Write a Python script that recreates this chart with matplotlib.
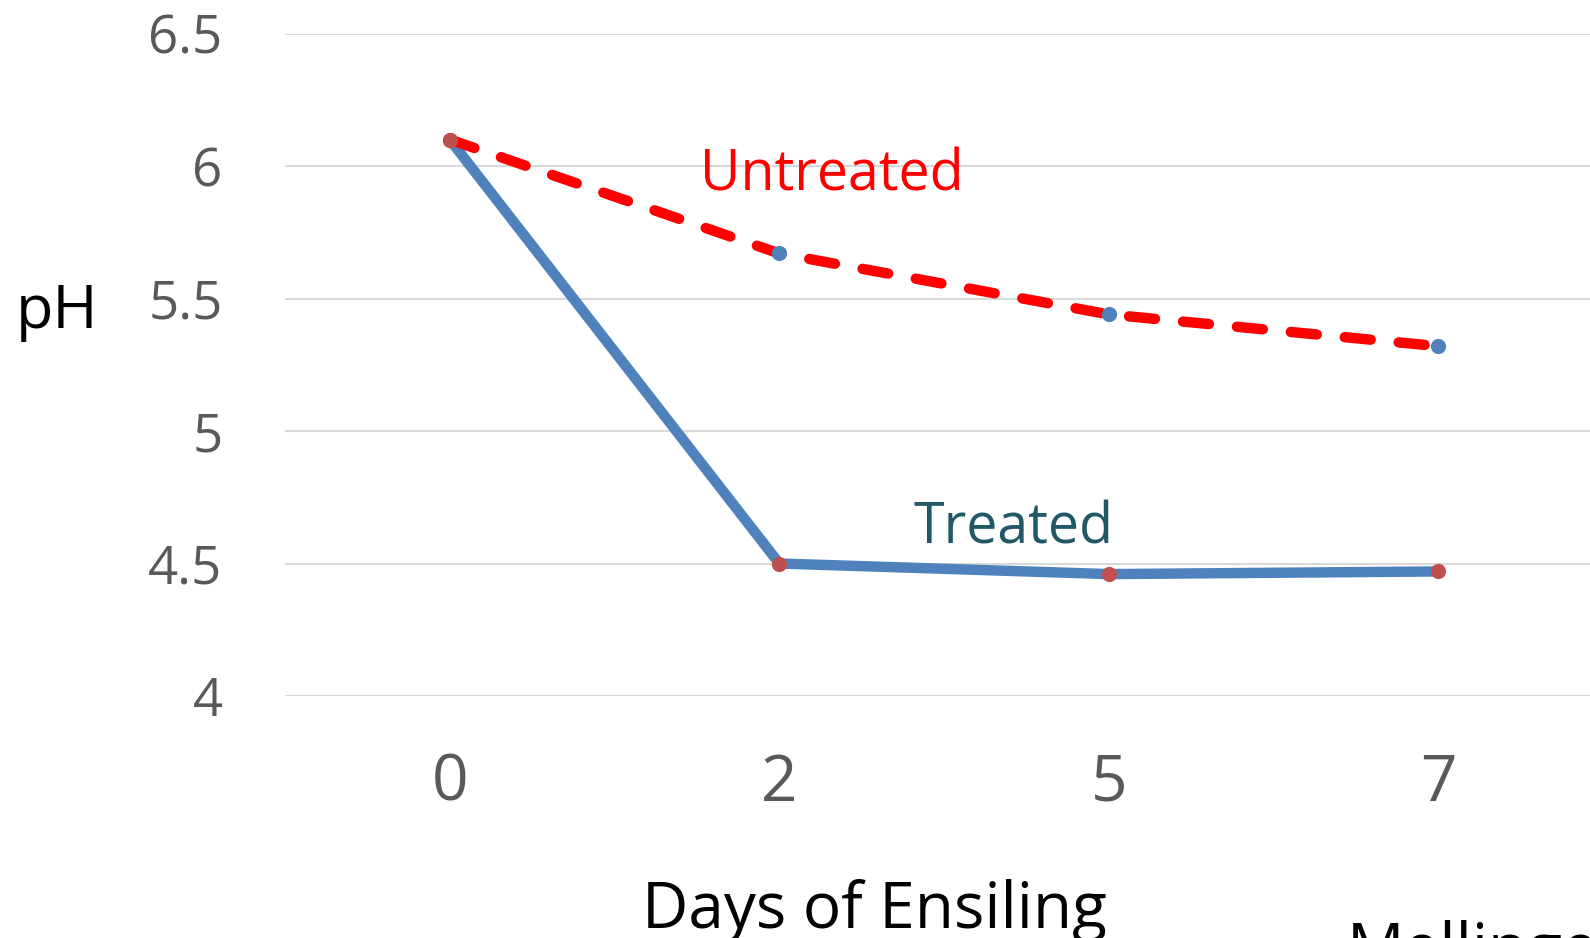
import numpy as np
import matplotlib
matplotlib.use("Agg")
import matplotlib.pyplot as plt

plt.rcParams['font.family'] = ['Open Sans', 'DejaVu Sans']

days = ['0', '2', '5', '7']
untreated = [6.10, 5.67, 5.44, 5.32]
treated = [6.10, 4.50, 4.46, 4.47]
y_ticks = [4, 4.5, 5, 5.5, 6, 6.5]
y_labels = ['4', '4.5', '5', '5.5', '6', '6.5']

W, H = 1590, 938
fig = plt.figure(figsize=(W / 100, H / 100), dpi=100)
# plot area runs past the right edge of the figure
ax = fig.add_axes([285 / W, 1 - 696 / H, 1318 / W, (696 - 33.5) / H])

x = np.arange(len(days))
blue = '#4F81BD'
brick = '#C0504D'

ax.plot(x, treated, color=blue, lw=7.5, solid_capstyle='round',
        solid_joinstyle='round', zorder=3)
ax.plot(x, untreated, color='#FF0000', lw=7.5, linestyle=(0, (2.5, 2.7)),
        dash_capstyle='round', zorder=3)
ax.scatter(x, treated, s=120, color=brick, zorder=4, linewidths=0)
ax.scatter(x[1:], untreated[1:], s=120, color=blue, zorder=4, linewidths=0)
ax.scatter(x[:1], untreated[:1], s=120, color=brick, zorder=5, linewidths=0)

ax.set_xlim(-0.5, 3.5)
ax.set_ylim(4, 6.5)
ax.set_xticks(x)
ax.set_xticklabels(days)
ax.set_yticks(y_ticks)
ax.set_yticklabels(y_labels)
ax.tick_params(length=0, colors='#595959')
ax.tick_params(axis='y', labelsize=38, pad=45)
ax.tick_params(axis='x', labelsize=46, pad=40)
ax.yaxis.grid(True, color='#D9D9D9', lw=1.5)
ax.set_axisbelow(True)
for s in ax.spines.values():
    s.set_visible(False)

ax.text(0.76, 5.906, 'Untreated', color='#FF0000', fontsize=40)
ax.text(1.406, 4.575, 'Treated', color='#215868', fontsize=40)

fig.text(57 / W, 1 - 312 / H, 'pH', fontsize=44, color='black',
         ha='center', va='center')
fig.text(874 / W, 1 - 928 / H, 'Days of Ensiling', fontsize=46,
         color='black', ha='center', va='baseline')
fig.text(1347 / W, 1 - 969 / H, 'Mellinger', fontsize=46, color='black',
         ha='left', va='baseline')

fig.savefig('out.png', dpi=100)
